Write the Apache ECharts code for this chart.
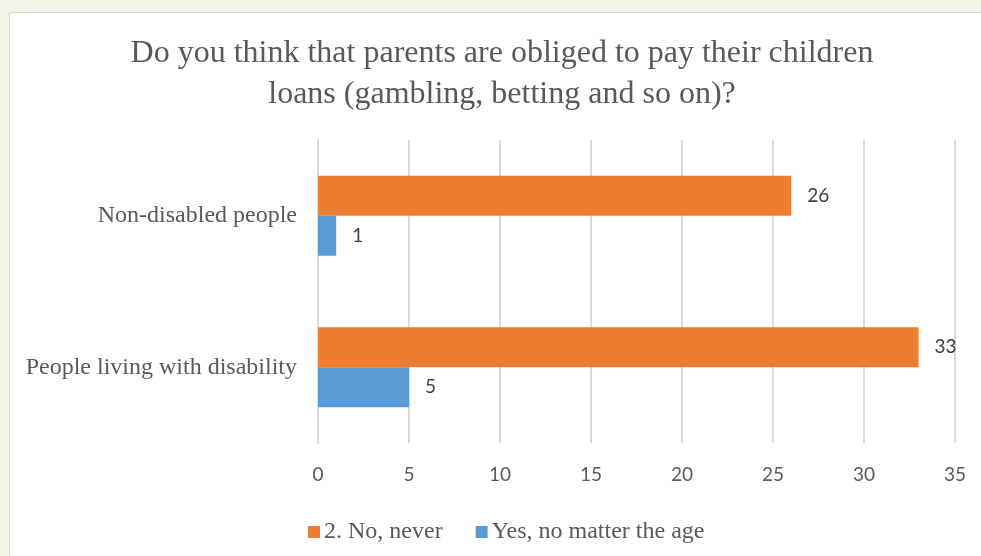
<!DOCTYPE html>
<html>
<head>
<meta charset="utf-8">
<script src="https://cdn.jsdelivr.net/npm/echarts@6/dist/echarts.min.js"></script>
<style>
  html, body { margin: 0; padding: 0; background: #f4f4e8; }
  #chart { width: 981px; height: 556px; }
</style>
</head>
<body>
<div id="chart"></div>
<script>
// Survey groups (bottom to top on the category axis)
const categories = ['People living with disability', 'Non-disabled people'];
// Answer series
const seriesNames = ['2. No, never', 'Yes, no matter the age'];
const noNever = [33, 26];
const yesAnyAge = [5, 1];
// Value axis ticks
const axisMin = 0;
const axisMax = 35;
const axisStep = 5;

const titleText = 'Do you think that parents are obliged to pay their children\nloans (gambling, betting and so on)?';

const serif = '"Liberation Serif", "Times New Roman", serif';
const sans = 'Lato, "Open Sans", sans-serif';

const chart = echarts.init(document.getElementById('chart'), null, { renderer: 'canvas' });

const valueLabel = {
  show: true,
  position: 'right',
  distance: 16,
  fontFamily: sans,
  fontSize: 19,
  color: '#404040'
};

chart.setOption({
  backgroundColor: '#f4f4e8',
  animation: false,
  graphic: [{
    type: 'rect',
    z: -10,
    shape: { x: 9.5, y: 12.5, width: 990, height: 560 },
    style: { fill: '#ffffff', stroke: '#d9d9d9', lineWidth: 1 }
  }],
  title: {
    text: titleText,
    left: 497,
    textAlign: 'center',
    top: 28,
    textStyle: {
      fontFamily: serif,
      fontWeight: 'normal',
      fontSize: 32,
      lineHeight: 41,
      color: '#595959'
    }
  },
  legend: {
    data: seriesNames,
    left: 303,
    top: 515,
    itemWidth: 12,
    itemHeight: 12,
    itemGap: 33,
    icon: 'rect',
    textStyle: { fontFamily: serif, fontSize: 24, color: '#595959', padding: [0, 0, 0, -1] }
  },
  grid: { left: 318, right: 26, top: 140, bottom: 113 },
  xAxis: {
    type: 'value',
    min: axisMin,
    max: axisMax,
    interval: axisStep,
    axisLine: { show: false },
    axisTick: { show: false },
    splitLine: { show: true, lineStyle: { color: '#d9d9d9', width: 2 } },
    axisLabel: { fontFamily: sans, fontSize: 19, color: '#595959', margin: 22 }
  },
  yAxis: {
    type: 'category',
    data: categories,
    axisLine: { show: true, lineStyle: { color: '#d9d9d9', width: 2 } },
    axisTick: { show: false },
    axisLabel: { fontFamily: serif, fontSize: 24, color: '#595959', margin: 21 }
  },
  series: [
    {
      name: seriesNames[0],
      type: 'bar',
      data: noNever,
      barWidth: 40,
      barGap: '0%',
      itemStyle: { color: '#ed7d31' },
      label: valueLabel
    },
    {
      name: seriesNames[1],
      type: 'bar',
      data: yesAnyAge,
      barWidth: 40,
      barGap: '0%',
      itemStyle: { color: '#5b9bd5' },
      label: valueLabel
    }
  ]
});
</script>
</body>
</html>
